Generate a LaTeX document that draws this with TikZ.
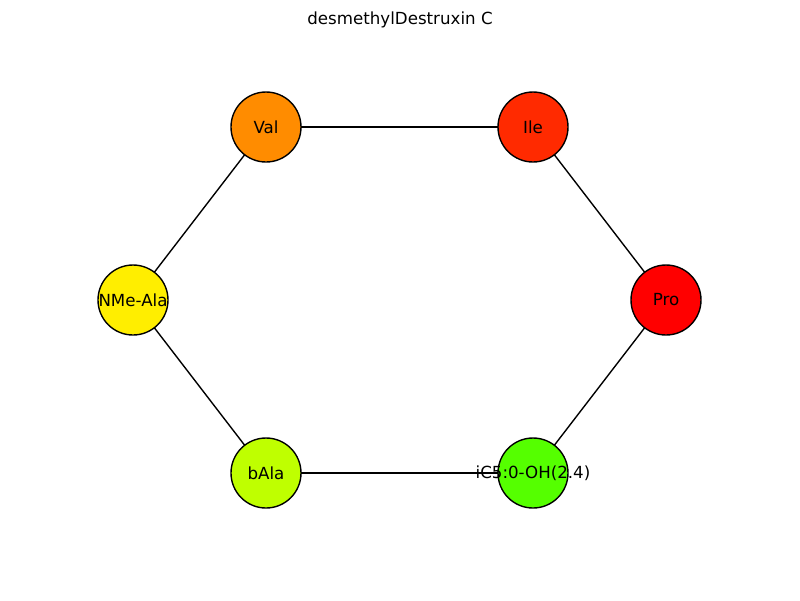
\documentclass[tikz,border=0pt]{standalone}
\usepackage{fontspec}
\setmainfont{DejaVu Sans}
\usetikzlibrary{backgrounds}
\definecolor{cval}{HTML}{FF8C00}
\definecolor{cile}{HTML}{FF2A00}
\definecolor{cpro}{HTML}{FF0000}
\definecolor{cic}{HTML}{55FF00}
\definecolor{cbala}{HTML}{BFFF00}
\definecolor{cnme}{HTML}{FFEE00}
\tikzset{
  res/.style={circle, draw=black, line width=1pt, minimum size=50.4pt, inner sep=0pt, font=\fontsize{12}{14}\selectfont, text=black},
  link/.style={draw=black, line width=1pt}
}
\begin{document}
\begin{tikzpicture}[x=0.72pt, y=-0.72pt]
\useasboundingbox (0,0) rectangle (800,600);
\node[font=\fontsize{12}{14}\selectfont] (title) at (400,20) {desmethylDestruxin C};
\node[res, fill=cval] (val) at (266,127) {Val};
\node[res, fill=cile] (ile) at (533,127) {Ile};
\node[res, fill=cpro] (pro) at (666,300) {Pro};
\node[res, fill=cic] (ic5) at (533,473) {\makebox[0pt]{iC5:0-OH(2.4)}};
\node[res, fill=cbala] (bala) at (266,473) {bAla};
\node[res, fill=cnme] (nme) at (133,300) {\makebox[0pt]{NMe-Ala}};
\begin{scope}[on background layer]
\draw[link] (val.center) -- (ile.center);
\draw[link] (ile.center) -- (pro.center);
\draw[link] (pro.center) -- (ic5.center);
\draw[link] (ic5.center) -- (bala.center);
\draw[link] (bala.center) -- (nme.center);
\draw[link] (nme.center) -- (val.center);
\end{scope}
\end{tikzpicture}
\end{document}
